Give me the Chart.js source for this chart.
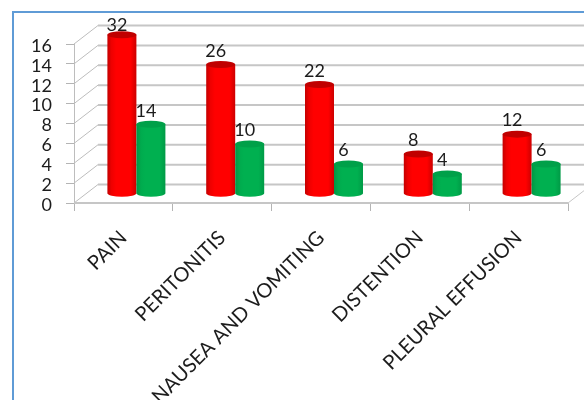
<!DOCTYPE html>
<html>
<head>
<meta charset="utf-8">
<style>
  html, body { margin: 0; padding: 0; background: #fff; overflow: hidden; }
  #wrap { position: relative; width: 584px; height: 400px; overflow: hidden; }
  #frame { position: absolute; left: 12px; top: 11px; width: 600px; height: 420px; border: 2px solid #5f9bd6; }
  #chart { position: absolute; left: 0; top: 0; }
</style>
<script src="https://cdn.jsdelivr.net/npm/chart.js@4"></script>
</head>
<body>
<div id="wrap">
  <div id="frame"></div>
  <canvas id="chart" width="584" height="400"></canvas>
</div>
<script>
const categories = ['PAIN', 'PERITONITIS', 'NAUSEA AND VOMITING', 'DISTENTION', 'PLEURAL EFFUSION'];
const redValues = [32, 26, 22, 8, 12];
const greenValues = [14, 10, 6, 4, 6];
const tickLabels = ['0', '2', '4', '6', '8', '10', '12', '14', '16'];

const FONT = 'Lato, "Open Sans", sans-serif';
const TEXT = '#1c1c1c';
const GRID = '#c6c6c6';

// how far the back wall sits behind the front of the box
const DEPTH_X = 24;
const DEPTH_Y = -18.5;

const redStyle = {
  stops: [[0, '#c40000'], [0.14, '#ee0000'], [0.3, '#ff0000'], [0.8, '#ff0000'], [1, '#cc0000']],
  top: '#c00000',
};
const greenStyle = {
  stops: [[0, '#009644'], [0.16, '#00ab4e'], [0.3, '#00b050'], [0.8, '#00b050'], [1, '#009a46']],
  top: '#00a049',
};

function line(ctx, x1, y1, x2, y2) {
  ctx.beginPath();
  ctx.moveTo(x1, y1);
  ctx.lineTo(x2, y2);
  ctx.stroke();
}

// back wall, side wall and floor of the box
const boxPlugin = {
  id: 'box',
  beforeDatasetsDraw(chart) {
    const { ctx, chartArea, scales } = chart;
    ctx.save();
    scales.y.ticks.forEach((tick) => {
      const y = scales.y.getPixelForValue(tick.value);
      ctx.strokeStyle = '#bdbdbd';
      ctx.lineWidth = 1;
      line(ctx, chartArea.left, y, chartArea.left + DEPTH_X, y + DEPTH_Y);
      ctx.strokeStyle = GRID;
      ctx.lineWidth = 2;
      line(ctx, chartArea.left + DEPTH_X, y + DEPTH_Y, chartArea.right + DEPTH_X, y + DEPTH_Y);
    });
    // floor edge along the front, then up the right side
    ctx.strokeStyle = GRID;
    ctx.lineWidth = 2;
    line(ctx, chartArea.left, chartArea.bottom, chartArea.right, chartArea.bottom);
    ctx.lineWidth = 1;
    line(ctx, chartArea.right, chartArea.bottom, chartArea.right + DEPTH_X, chartArea.bottom + DEPTH_Y);
    ctx.restore();
  },
};

// the bar elements stay invisible, each one is painted as a cylinder standing mid depth
const cylinderPlugin = {
  id: 'cylinders',
  afterDatasetsDraw(chart) {
    const { ctx } = chart;
    const dx = DEPTH_X / 2 + 1;
    const dy = DEPTH_Y / 2;
    const ry = 3.5;
    ctx.save();
    chart.data.datasets.forEach((dataset, i) => {
      const style = dataset.cylinder;
      chart.getDatasetMeta(i).data.forEach((bar) => {
        const left = bar.x - bar.width / 2 + dx;
        const right = bar.x + bar.width / 2 + dx;
        const cx = bar.x + dx;
        const top = bar.y + dy;
        const base = bar.base + dy;
        const grad = ctx.createLinearGradient(left, 0, right, 0);
        style.stops.forEach(([at, color]) => grad.addColorStop(at, color));
        ctx.fillStyle = grad;
        ctx.beginPath();
        ctx.moveTo(left, top);
        ctx.lineTo(left, base);
        ctx.ellipse(cx, base, bar.width / 2, ry, 0, Math.PI, 0, true);
        ctx.lineTo(right, top);
        ctx.closePath();
        ctx.fill();
        ctx.fillStyle = style.top;
        ctx.beginPath();
        ctx.ellipse(cx, top, bar.width / 2, ry, 0, 0, Math.PI * 2);
        ctx.fill();
      });
    });
    // value labels sit a little left of each cylinder
    ctx.font = '18px ' + FONT;
    ctx.fillStyle = TEXT;
    ctx.textAlign = 'center';
    ctx.textBaseline = 'middle';
    chart.data.datasets.forEach((dataset, i) => {
      chart.getDatasetMeta(i).data.forEach((bar, j) => {
        const y = Math.max(bar.y + dy - 13.5, 25);
        ctx.fillText(String(dataset.data[j]), bar.x + dx - 5, y);
      });
    });
    ctx.restore();
  },
};

new Chart(document.getElementById('chart'), {
  type: 'bar',
  data: {
    labels: categories,
    datasets: [
      { data: redValues, backgroundColor: 'transparent', cylinder: redStyle },
      { data: greenValues, backgroundColor: 'transparent', cylinder: greenStyle },
    ],
  },
  plugins: [boxPlugin, cylinderPlugin],
  options: {
    responsive: false,
    animation: false,
    devicePixelRatio: 1,
    layout: { padding: { top: 44, right: 16, left: 0, bottom: 0 } },
    plugins: { legend: { display: false }, title: { display: false }, tooltip: { enabled: false } },
    datasets: { bar: { barPercentage: 1, categoryPercentage: 0.587 } },
    scales: {
      x: {
        afterFit(scale) { scale.height = 197; },
        border: { color: GRID, width: 1 },
        grid: { offset: true, drawOnChartArea: false, tickLength: 8, color: '#b4b4b4' },
        ticks: {
          autoSkip: false,
          minRotation: 45,
          maxRotation: 45,
          padding: 15,
          color: TEXT,
          font: { family: FONT, size: 20 },
        },
      },
      y: {
        min: 0,
        max: 32,
        afterFit(scale) { scale.width = 74; },
        border: { color: '#bdbdbd', width: 1 },
        grid: { drawOnChartArea: false, tickLength: 8, color: '#b4b4b4' },
        ticks: {
          stepSize: 4,
          autoSkip: false,
          padding: 14,
          labelOffset: 2,
          color: TEXT,
          font: { family: FONT, size: 18 },
          callback: (value) => tickLabels[value / 4],
        },
      },
    },
  },
});
</script>
</body>
</html>
